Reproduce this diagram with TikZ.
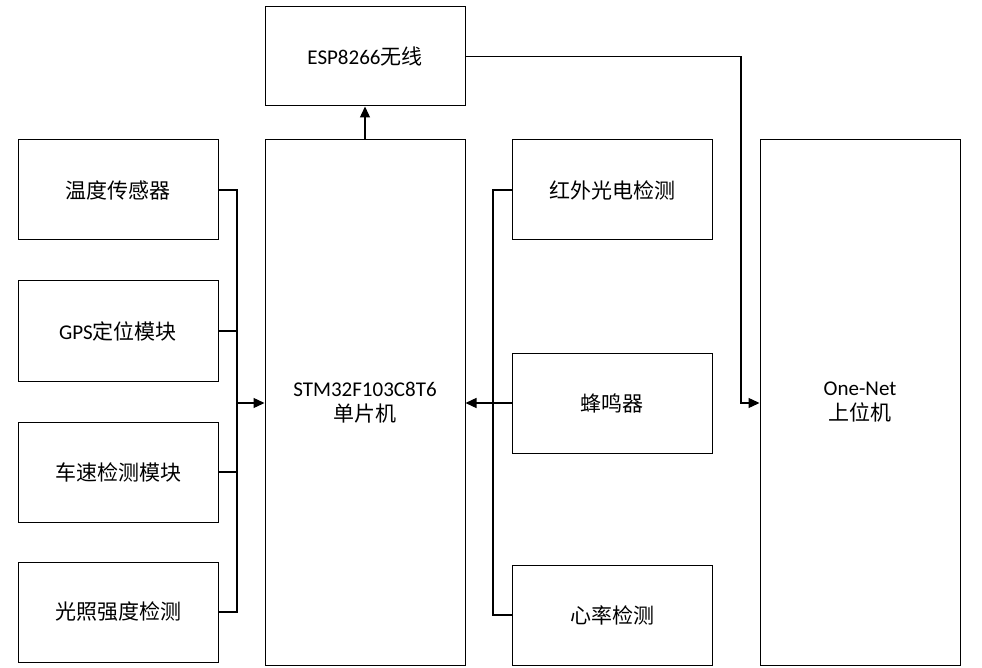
\documentclass[tikz,border=0pt]{standalone}
\usepackage{fontspec}
\setmainfont{Carlito}
\newfontfamily\cjk{Noto Sans CJK SC}
\newcommand\zh[1]{{\cjk #1}}
\usetikzlibrary{arrows.meta}
\begin{document}
\begin{tikzpicture}[x=1pt,y=-1pt,
  blk/.style={draw=black,line width=1pt,fill=white,inner sep=0pt,align=center,
    font=\fontsize{21}{25}\selectfont},
  conn/.style={line width=1.3pt},
  arr/.style={conn,-{Triangle[length=11pt,width=10pt]}}]
\useasboundingbox[fill=white] (0,0) rectangle (982,668);
% blocks
\node[blk,minimum width=200pt,minimum height=99pt] (esp) at (365,56.5) {ESP8266\zh{无线}};
\node[blk,minimum width=200pt,minimum height=525pt] (stm) at (365,402.5) {STM32F103C8T6\\\zh{单片机}};
\node[blk,minimum width=200pt,minimum height=525pt] (net) at (860,402.5) {One-Net\\\zh{上位机}};
\node[blk,minimum width=200pt,minimum height=100pt] (l1) at (118,190) {\zh{温度传感器}};
\node[blk,minimum width=200pt,minimum height=100pt] (l2) at (118,331) {GPS\zh{定位模块}};
\node[blk,minimum width=200pt,minimum height=100pt] (l3) at (118,472) {\zh{车速检测模块}};
\node[blk,minimum width=200pt,minimum height=100pt] (l4) at (118,612) {\zh{光照强度检测}};
\node[blk,minimum width=200pt,minimum height=100pt] (r1) at (612,190) {\zh{红外光电检测}};
\node[blk,minimum width=200pt,minimum height=100pt] (r2) at (612,403) {\zh{蜂鸣器}};
\node[blk,minimum width=200pt,minimum height=100pt] (r3) at (612,615) {\zh{心率检测}};
% bus coordinates
\coordinate (lb) at (237,403);
\coordinate (rb) at (493,403);
\coordinate (eb) at (741,403);
% left bus
\draw[conn] (l1.east) -| (lb);
\draw[conn] (l4.east) -| (lb);
\draw[conn] (l2.east) -| (lb);
\draw[conn] (l3.east) -| (lb);
\draw[arr] (lb) -- (stm.west |- lb);
% right bus
\draw[conn] (r1.west) -| (rb);
\draw[conn] (r3.west) -| (rb);
\draw[conn] (r2.west) -- (rb);
\draw[arr] (rb) -- (stm.east |- rb);
% STM to ESP
\draw[arr] (stm.north) -- (esp.south);
% ESP to One-Net
\draw[arr] (esp.east) -| (eb) -- (net.west |- eb);
\end{tikzpicture}
\end{document}
